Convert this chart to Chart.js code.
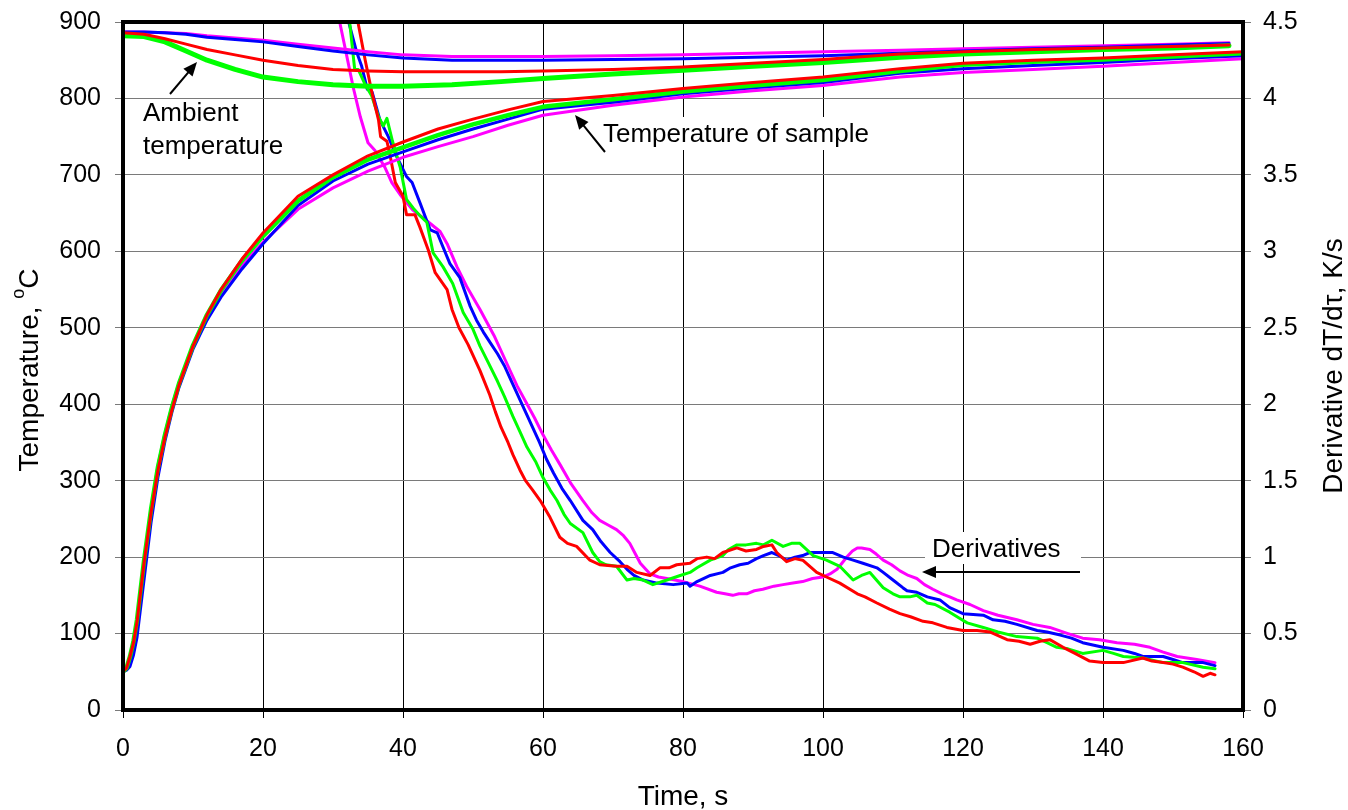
<!DOCTYPE html>
<html>
<head>
<meta charset="utf-8">
<script src="https://cdn.jsdelivr.net/npm/chart.js@4.4.1/dist/chart.umd.min.js"></script>
<style>
html,body{margin:0;padding:0;background:#fff;}
canvas{display:block;}
</style>
</head>
<body>
<canvas id="c" width="1348" height="810"></canvas>
<script>
// ---------- axis ticks ----------
const xTicks = [0, 20, 40, 60, 80, 100, 120, 140, 160];
const yTicks = [0, 100, 200, 300, 400, 500, 600, 700, 800, 900];
const y1Ticks = [0, 0.5, 1, 1.5, 2, 2.5, 3, 3.5, 4, 4.5];
const y1TickLabels = ['0', '0.5', '1', '1.5', '2', '2.5', '3', '3.5', '4', '4.5'];

// ---------- ambient temperature (left axis, °C) ----------
const tAmbient = [0, 3, 6, 9, 12, 16, 20, 25, 30, 35, 40, 47, 54, 60, 70, 80, 90, 100, 111, 120, 130, 140, 150, 158];
const ambientRed     = [886, 884, 878, 871, 864, 857, 850, 843, 838, 836, 835, 835, 835, 836, 838, 841, 846, 851, 858, 861, 864, 866, 868, 870];
const ambientGreen   = [882, 881, 874, 862, 850, 838, 828, 822, 818, 816, 816, 818, 822, 826, 832, 837, 842, 847, 854, 858, 861, 864, 866, 869];
const ambientBlue    = [887, 887, 886, 884, 880, 877, 874, 868, 862, 857, 853, 850, 850, 850, 851, 852, 854, 856, 859, 862, 865, 867, 870, 872];
const ambientMagenta = [887, 887, 886, 885, 882, 879, 876, 871, 866, 861, 857, 855, 855, 855, 856, 857, 859, 861, 863, 865, 867, 869, 871, 873];

// ---------- sample temperature (left axis, °C) ----------
const tSample = [0, 0.5, 1, 1.5, 2, 3, 4, 5, 6, 7, 8, 10, 12, 14, 17, 20, 25, 30, 35, 40, 45, 50, 55, 60, 70, 80, 90, 100, 111, 120, 130, 140, 150, 160];
const sampleRed     = [50, 55, 70, 88, 115, 192, 258, 314, 357, 393, 425, 476, 517, 550, 590, 624, 672, 700, 725, 743, 760, 773, 785, 796, 804, 813, 821, 828, 839, 846, 850, 853, 857, 861];
const sampleGreen   = [50, 55, 70, 90, 118, 195, 262, 318, 360, 396, 427, 477, 517, 549, 588, 620, 666, 697, 720, 736, 752, 766, 778, 789, 799, 809, 817, 824, 836, 844, 848, 851, 855, 859];
const sampleBlue    = [50, 52, 57, 72, 95, 170, 245, 305, 352, 390, 422, 472, 510, 540, 577, 610, 660, 692, 714, 730, 746, 760, 773, 786, 795, 806, 814, 821, 833, 839, 843, 847, 852, 856];
const sampleMagenta = [50, 56, 68, 85, 110, 190, 262, 320, 362, 398, 428, 476, 515, 546, 582, 612, 655, 683, 705, 723, 737, 750, 765, 778, 791, 802, 810, 817, 828, 834, 838, 842, 847, 852];

// ---------- derivatives dT/dτ (right axis, K/s) ----------
const tDerivRed = [33.2, 33.6, 34.6, 35.6, 36.5, 36.8, 37.7, 38.1, 38.9, 40.0, 40.5, 41.7, 42.4, 43.6, 44.6, 46.3, 47.0, 48.0, 49.3, 50.2, 51.0, 52.4, 53.2, 54.0, 55.0, 55.7, 56.7, 57.5, 58.5, 59.6, 61.0, 62.4, 63.5, 64.8, 66.7, 68.1, 70.5, 72.0, 73.4, 75.3, 76.7, 78.0, 79.1, 81.0, 82.0, 83.4, 84.5, 85.7, 87.7, 89.0, 90.5, 91.5, 92.7, 93.4, 94.8, 96.0, 97.1, 99.1, 100.5, 102.4, 104.9, 106.0, 107.7, 109.5, 111.0, 112.5, 114.3, 115.7, 117.7, 120.0, 122.0, 123.9, 126.3, 128.0, 129.6, 131.0, 132.4, 134.3, 136.0, 138.1, 140.0, 142.9, 145.7, 147.0, 148.6, 150.0, 151.4, 153.0, 154.3, 155.3, 156.0];
const derivRed = [4.75, 4.49, 4.25, 4.03, 3.86, 3.75, 3.72, 3.64, 3.45, 3.36, 3.24, 3.24, 3.16, 3.01, 2.86, 2.75, 2.62, 2.50, 2.39, 2.30, 2.22, 2.06, 1.95, 1.85, 1.75, 1.67, 1.57, 1.50, 1.44, 1.37, 1.26, 1.13, 1.09, 1.07, 0.98, 0.95, 0.94, 0.94, 0.90, 0.88, 0.93, 0.93, 0.95, 0.96, 0.99, 1.00, 0.99, 1.03, 1.06, 1.04, 1.05, 1.07, 1.08, 1.03, 0.97, 0.99, 0.98, 0.90, 0.87, 0.83, 0.76, 0.74, 0.70, 0.66, 0.63, 0.61, 0.58, 0.57, 0.54, 0.52, 0.52, 0.51, 0.46, 0.45, 0.43, 0.45, 0.46, 0.41, 0.37, 0.32, 0.31, 0.31, 0.34, 0.32, 0.31, 0.30, 0.28, 0.25, 0.22, 0.24, 0.23];

const tDerivGreen = [32.2, 32.4, 33.1, 33.6, 34.5, 35.5, 36.5, 37.2, 37.7, 38.5, 39.6, 40.5, 41.5, 42.5, 43.4, 44.3, 45.7, 47.1, 48.6, 50.0, 51.0, 52.2, 53.5, 54.5, 55.7, 56.7, 57.7, 59.0, 60.0, 61.0, 62.0, 63.0, 63.9, 65.7, 67.1, 68.1, 69.0, 70.5, 72.0, 73.0, 74.3, 75.7, 77.7, 79.6, 81.0, 82.0, 83.9, 85.7, 86.5, 87.7, 89.0, 90.5, 91.5, 92.7, 94.3, 95.5, 96.7, 98.6, 100.5, 102.4, 104.3, 105.5, 106.7, 108.6, 110.0, 111.0, 112.4, 113.4, 114.9, 116.0, 118.1, 119.5, 120.6, 122.9, 125.0, 127.7, 130.6, 132.0, 133.4, 135.0, 137.1, 140.0, 141.5, 142.9, 145.7, 148.6, 151.4, 154.3, 156.0];
const derivGreen = [4.70, 4.49, 4.19, 4.19, 4.10, 4.02, 3.88, 3.82, 3.87, 3.72, 3.55, 3.34, 3.28, 3.23, 3.19, 2.99, 2.90, 2.79, 2.60, 2.49, 2.38, 2.27, 2.15, 2.05, 1.92, 1.82, 1.72, 1.62, 1.52, 1.44, 1.37, 1.28, 1.22, 1.16, 1.03, 0.97, 0.95, 0.94, 0.85, 0.86, 0.85, 0.82, 0.85, 0.88, 0.90, 0.93, 0.98, 1.01, 1.05, 1.08, 1.08, 1.09, 1.08, 1.11, 1.07, 1.09, 1.09, 1.01, 0.98, 0.94, 0.85, 0.88, 0.90, 0.80, 0.76, 0.74, 0.74, 0.75, 0.70, 0.69, 0.64, 0.60, 0.57, 0.54, 0.51, 0.48, 0.47, 0.44, 0.41, 0.40, 0.37, 0.39, 0.37, 0.35, 0.34, 0.31, 0.31, 0.28, 0.27];

const tDerivBlue = [32.0, 32.3, 33.4, 34.1, 34.9, 35.6, 36.7, 37.9, 39.1, 40.5, 41.3, 42.4, 43.9, 44.9, 45.7, 46.7, 48.1, 49.6, 50.5, 51.5, 52.5, 53.5, 54.5, 55.5, 56.5, 57.5, 58.5, 59.5, 60.5, 61.5, 62.7, 63.9, 65.7, 67.1, 68.3, 69.6, 71.0, 72.0, 73.0, 74.3, 76.3, 78.6, 80.6, 81.0, 82.0, 83.9, 85.7, 86.8, 88.1, 89.3, 90.5, 91.5, 92.7, 93.7, 94.8, 96.0, 97.1, 98.1, 99.5, 101.4, 102.9, 104.3, 105.7, 107.7, 108.6, 110.0, 111.4, 112.0, 113.4, 114.9, 116.7, 118.1, 120.0, 122.9, 124.3, 126.0, 127.7, 130.6, 132.0, 133.9, 135.5, 137.1, 140.0, 142.9, 144.5, 145.7, 148.6, 150.0, 151.4, 154.3, 156.0];
const derivBlue = [4.75, 4.49, 4.30, 4.21, 4.06, 4.04, 3.86, 3.75, 3.62, 3.49, 3.45, 3.32, 3.14, 3.12, 3.03, 2.92, 2.83, 2.64, 2.55, 2.47, 2.40, 2.33, 2.25, 2.15, 2.05, 1.95, 1.85, 1.75, 1.64, 1.55, 1.45, 1.37, 1.24, 1.18, 1.10, 1.03, 0.97, 0.92, 0.88, 0.85, 0.83, 0.82, 0.83, 0.81, 0.84, 0.88, 0.90, 0.93, 0.95, 0.96, 0.99, 1.01, 1.03, 1.01, 0.98, 1.00, 1.01, 1.03, 1.03, 1.03, 1.00, 0.98, 0.96, 0.93, 0.90, 0.85, 0.80, 0.78, 0.77, 0.74, 0.72, 0.67, 0.63, 0.62, 0.59, 0.58, 0.56, 0.52, 0.51, 0.49, 0.47, 0.44, 0.41, 0.39, 0.37, 0.35, 0.35, 0.33, 0.31, 0.31, 0.29];

const tDerivMagenta = [30.8, 31.0, 32.0, 32.9, 33.9, 35.0, 36.0, 37.4, 38.4, 39.6, 41.4, 43.4, 45.3, 46.3, 47.7, 49.1, 51.0, 53.0, 55.0, 56.3, 57.5, 58.8, 60.0, 61.2, 62.5, 64.0, 65.7, 67.0, 68.1, 69.3, 70.5, 71.5, 72.4, 73.2, 73.9, 75.3, 76.5, 77.7, 80.0, 82.4, 84.8, 86.0, 87.1, 88.0, 89.1, 90.2, 91.4, 93.0, 94.3, 95.7, 97.1, 98.5, 100.0, 101.0, 102.0, 102.7, 103.4, 104.2, 104.9, 105.5, 106.7, 107.6, 108.6, 109.8, 111.0, 112.2, 113.4, 114.5, 115.7, 117.0, 118.1, 119.1, 121.0, 122.9, 125.0, 127.7, 130.0, 132.4, 135.0, 137.1, 139.5, 142.0, 144.5, 146.7, 148.5, 150.6, 153.4, 156.0];
const derivMagenta = [4.75, 4.49, 4.27, 4.07, 3.88, 3.71, 3.66, 3.55, 3.45, 3.37, 3.27, 3.20, 3.13, 3.05, 2.90, 2.77, 2.62, 2.45, 2.25, 2.12, 2.02, 1.91, 1.80, 1.70, 1.60, 1.48, 1.37, 1.29, 1.24, 1.21, 1.18, 1.14, 1.09, 1.02, 0.96, 0.89, 0.87, 0.86, 0.84, 0.81, 0.77, 0.76, 0.75, 0.76, 0.76, 0.78, 0.79, 0.81, 0.82, 0.83, 0.84, 0.86, 0.87, 0.89, 0.92, 0.96, 1.00, 1.04, 1.06, 1.06, 1.05, 1.02, 0.98, 0.95, 0.91, 0.88, 0.86, 0.82, 0.79, 0.76, 0.74, 0.72, 0.69, 0.65, 0.62, 0.59, 0.56, 0.54, 0.50, 0.47, 0.46, 0.44, 0.43, 0.41, 0.38, 0.35, 0.33, 0.31];

// ---------- colours ----------
const RED = '#FF0000', GREEN = '#00FF00', BLUE = '#0000FF', MAGENTA = '#FF00FF';
const FONT = '"Liberation Sans", Arial, Helvetica, sans-serif';

function pts(xs, ys) { return xs.map((x, i) => ({ x: x, y: ys[i] })); }
function ds(xs, ys, color, width, axis) {
  return { data: pts(xs, ys), borderColor: color, borderWidth: width, yAxisID: axis,
           pointRadius: 0, fill: false, tension: 0, borderJoinStyle: 'round', borderCapStyle: 'round' };
}

const datasets = [
  ds(tAmbient, ambientRed, RED, 3, 'y'),
  ds(tAmbient, ambientGreen, GREEN, 5, 'y'),
  ds(tAmbient, ambientBlue, BLUE, 3, 'y'),
  ds(tAmbient, ambientMagenta, MAGENTA, 3, 'y'),
  ds(tSample, sampleRed, RED, 3, 'y'),
  ds(tSample, sampleGreen, GREEN, 4.5, 'y'),
  ds(tSample, sampleBlue, BLUE, 3, 'y'),
  ds(tSample, sampleMagenta, MAGENTA, 3, 'y'),
  ds(tDerivRed, derivRed, RED, 3, 'y1'),
  ds(tDerivGreen, derivGreen, GREEN, 3, 'y1'),
  ds(tDerivBlue, derivBlue, BLUE, 3, 'y1'),
  ds(tDerivMagenta, derivMagenta, MAGENTA, 3, 'y1')
];

function arrow(ctx, x1, y1, x2, y2) {
  const a = Math.atan2(y2 - y1, x2 - x1);
  const L = 14, W = 6;
  ctx.save();
  ctx.strokeStyle = '#000'; ctx.fillStyle = '#000'; ctx.lineWidth = 2;
  ctx.beginPath();
  ctx.moveTo(x1, y1);
  ctx.lineTo(x2 - Math.cos(a) * L * 0.8, y2 - Math.sin(a) * L * 0.8);
  ctx.stroke();
  ctx.beginPath();
  ctx.moveTo(x2, y2);
  ctx.lineTo(x2 - Math.cos(a) * L + Math.sin(a) * W, y2 - Math.sin(a) * L - Math.cos(a) * W);
  ctx.lineTo(x2 - Math.cos(a) * L - Math.sin(a) * W, y2 - Math.sin(a) * L + Math.cos(a) * W);
  ctx.closePath();
  ctx.fill();
  ctx.restore();
}

const decor = {
  id: 'decor',
  afterDatasetsDraw(chart) {
    const ctx = chart.ctx, ca = chart.chartArea;
    ctx.save();
    // label boxes
    ctx.fillStyle = '#fff';
    ctx.fillRect(598, 117, 288, 33);
    ctx.fillRect(925, 532, 156, 32);
    ctx.fillStyle = '#000';
    ctx.font = '26px ' + FONT;
    ctx.textBaseline = 'alphabetic';
    ctx.textAlign = 'left';
    ctx.fillText('Ambient', 143, 121);
    ctx.fillText('temperature', 143, 154);
    ctx.fillText('Temperature of sample', 603, 142);
    ctx.fillText('Derivatives', 932, 557);
    arrow(ctx, 170, 94, 197, 62);
    arrow(ctx, 605, 152, 575, 115);
    arrow(ctx, 1080, 572, 922, 572);
    // plot border
    ctx.strokeStyle = '#000';
    ctx.lineWidth = 4;
    ctx.strokeRect(ca.left, ca.top, ca.right - ca.left, ca.bottom - ca.top);
    ctx.restore();
  },
  afterDraw(chart) {
    const ctx = chart.ctx, ca = chart.chartArea;
    ctx.save();
    ctx.fillStyle = '#000';
    ctx.font = '28px ' + FONT;
    // x title
    ctx.textAlign = 'center';
    ctx.textBaseline = 'alphabetic';
    ctx.fillText('Time, s', (ca.left + ca.right) / 2, 805);
    // left title with superscript
    const cy = (ca.top + ca.bottom) / 2 + 4;
    ctx.save();
    ctx.translate(30, cy);
    ctx.rotate(-Math.PI / 2);
    ctx.textBaseline = 'middle';
    ctx.textAlign = 'left';
    const p1 = 'Temperature, ', p2 = 'o', p3 = 'C';
    ctx.font = '28px ' + FONT;
    const w1 = ctx.measureText(p1).width, w3 = ctx.measureText(p3).width;
    ctx.font = '18px ' + FONT;
    const w2 = ctx.measureText(p2).width;
    const total = w1 + w2 + w3;
    let x = -total / 2;
    ctx.font = '28px ' + FONT;
    ctx.fillText(p1, x, 0); x += w1;
    ctx.font = '18px ' + FONT;
    ctx.fillText(p2, x, -11); x += w2;
    ctx.font = '28px ' + FONT;
    ctx.fillText(p3, x, 0);
    ctx.restore();
    // right title
    ctx.save();
    ctx.translate(1334, (ca.top + ca.bottom) / 2);
    ctx.rotate(-Math.PI / 2);
    ctx.textAlign = 'center';
    ctx.textBaseline = 'middle';
    ctx.font = '28px ' + FONT;
    ctx.fillText('Derivative dT/d\u03C4, K/s', 0, 0);
    ctx.restore();
    ctx.restore();
  }
};

function noPad(s) { s.paddingTop = 0; s.paddingBottom = 0; s.paddingLeft = 0; s.paddingRight = 0; }

new Chart(document.getElementById('c'), {
  type: 'line',
  data: { datasets: datasets },
  plugins: [decor],
  options: {
    responsive: false,
    animation: false,
    devicePixelRatio: 1,
    layout: { padding: { top: 22, left: 0, right: 0, bottom: 0 } },
    plugins: { legend: { display: false }, tooltip: { enabled: false } },
    elements: { point: { radius: 0 } },
    scales: {
      x: {
        type: 'linear', min: 0, max: 160,
        afterBuildTicks: s => { s.ticks = xTicks.map(v => ({ value: v })); },
        afterFit: s => { s.height = 100; noPad(s); },
        grid: { color: '#000', lineWidth: 1, tickLength: 8, tickColor: '#000' },
        border: { display: false },
        ticks: { font: { size: 25, family: FONT }, color: '#000', padding: 16, maxRotation: 0,
                 callback: (v) => String(v) }
      },
      y: {
        type: 'linear', position: 'left', min: 0, max: 900,
        afterBuildTicks: s => { s.ticks = yTicks.map(v => ({ value: v })); },
        afterFit: s => { s.width = 123; noPad(s); },
        grid: { color: '#7a7a7a', lineWidth: 1, tickLength: 8, tickColor: '#7a7a7a' },
        border: { display: false },
        ticks: { font: { size: 25, family: FONT }, color: '#000', padding: 14,
                 callback: (v) => String(v) }
      },
      y1: {
        type: 'linear', position: 'right', min: 0, max: 4.5,
        afterBuildTicks: s => { s.ticks = y1Ticks.map(v => ({ value: v })); },
        afterFit: s => { s.width = 105; noPad(s); },
        grid: { drawOnChartArea: false, tickLength: 8, tickColor: '#7a7a7a', color: '#7a7a7a' },
        border: { display: false },
        ticks: { font: { size: 25, family: FONT }, color: '#000', padding: 12,
                 callback: (v) => { const i = y1Ticks.indexOf(v); return i >= 0 ? y1TickLabels[i] : String(v); } }
      }
    }
  }
});
</script>
</body>
</html>
